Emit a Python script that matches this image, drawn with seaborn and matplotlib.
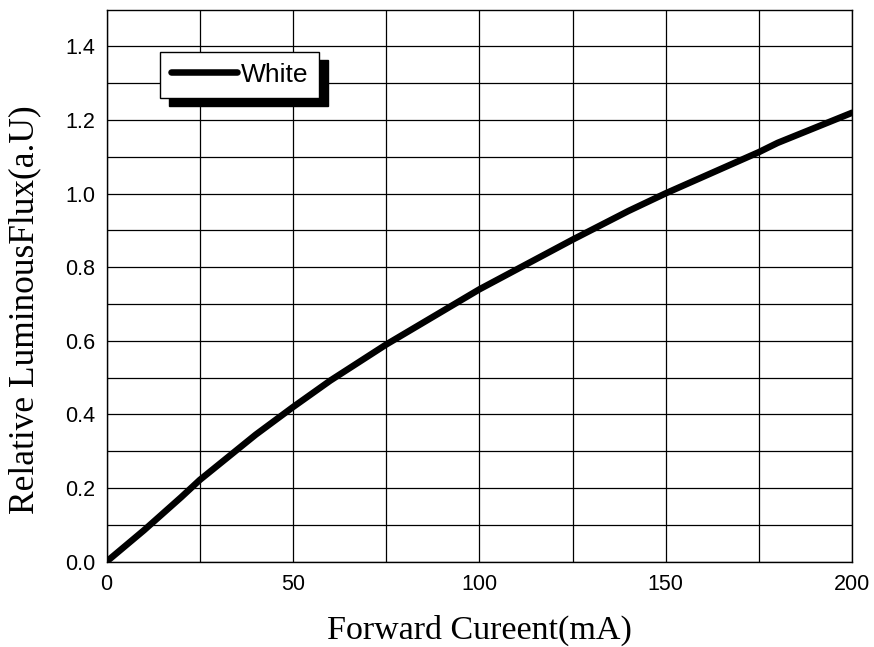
import matplotlib
matplotlib.use("Agg")
import matplotlib.pyplot as plt
import seaborn as sns
import pandas as pd

# values
current_ma = [0, 10, 20, 25, 40, 50, 60, 75, 80, 100, 120, 125, 140, 150, 175, 180, 200]
rel_flux = [0.0, 0.085, 0.175, 0.222, 0.345, 0.420, 0.492, 0.590, 0.620, 0.740,
            0.848, 0.875, 0.953, 1.001, 1.113, 1.138, 1.220]
series_name = "White"

df = pd.DataFrame({"current": current_ma, "flux": rel_flux, "series": series_name})

sns.set_style("white")
plt.rcParams["font.family"] = ["Liberation Sans", "DejaVu Sans"]
plt.rcParams["text.color"] = "black"
plt.rcParams["axes.labelcolor"] = "black"

fig = plt.figure(figsize=(8.74, 6.47), dpi=100)
ax = fig.add_axes([0.122, 0.132, 0.853, 0.853])

sns.lineplot(data=df, x="current", y="flux", hue="series", palette=["black"],
             linewidth=4.7, ax=ax)

ax.set_xlim(0, 200)
ax.set_ylim(0, 1.5)
ax.set_xticks([0, 50, 100, 150, 200])
ax.set_xticks([25, 75, 125, 175], minor=True)
ax.set_yticks([0.0, 0.2, 0.4, 0.6, 0.8, 1.0, 1.2, 1.4])
ax.set_yticks([0.1, 0.3, 0.5, 0.7, 0.9, 1.1, 1.3], minor=True)
ax.yaxis.set_major_formatter(matplotlib.ticker.FormatStrFormatter("%.1f"))
ax.grid(True, which="both", color="black", linewidth=0.9)
ax.tick_params(which="both", direction="in", length=4, labelsize=15.5,
               colors="black", labelcolor="black")
ax.tick_params(axis="x", pad=9)
ax.tick_params(axis="y", pad=8)
for s in ax.spines.values():
    s.set_color("black")
    s.set_linewidth(1.0)

ax.set_xlabel("Forward Cureent(mA)", family=["Liberation Serif"], fontsize=24.5, labelpad=14)
ax.set_ylabel("Relative LuminousFlux(a.U)", family=["Liberation Serif"], fontsize=25.5)
ax.yaxis.set_label_coords(-0.087, 0.457)

leg = ax.legend(loc="upper left", bbox_to_anchor=(0.071, 0.924), borderaxespad=0,
                fontsize=19, frameon=True, fancybox=False, edgecolor="black",
                framealpha=1, handlelength=2.5, handletextpad=0.15, borderpad=0.42,
                shadow={"ox": 6.5, "oy": -6, "color": "black", "alpha": 1})
leg.get_frame().set_linewidth(1.0)
for line in leg.get_lines():
    line.set_linewidth(4.7)
    line.set_solid_capstyle("round")

fig.savefig("out.png", dpi=100)
